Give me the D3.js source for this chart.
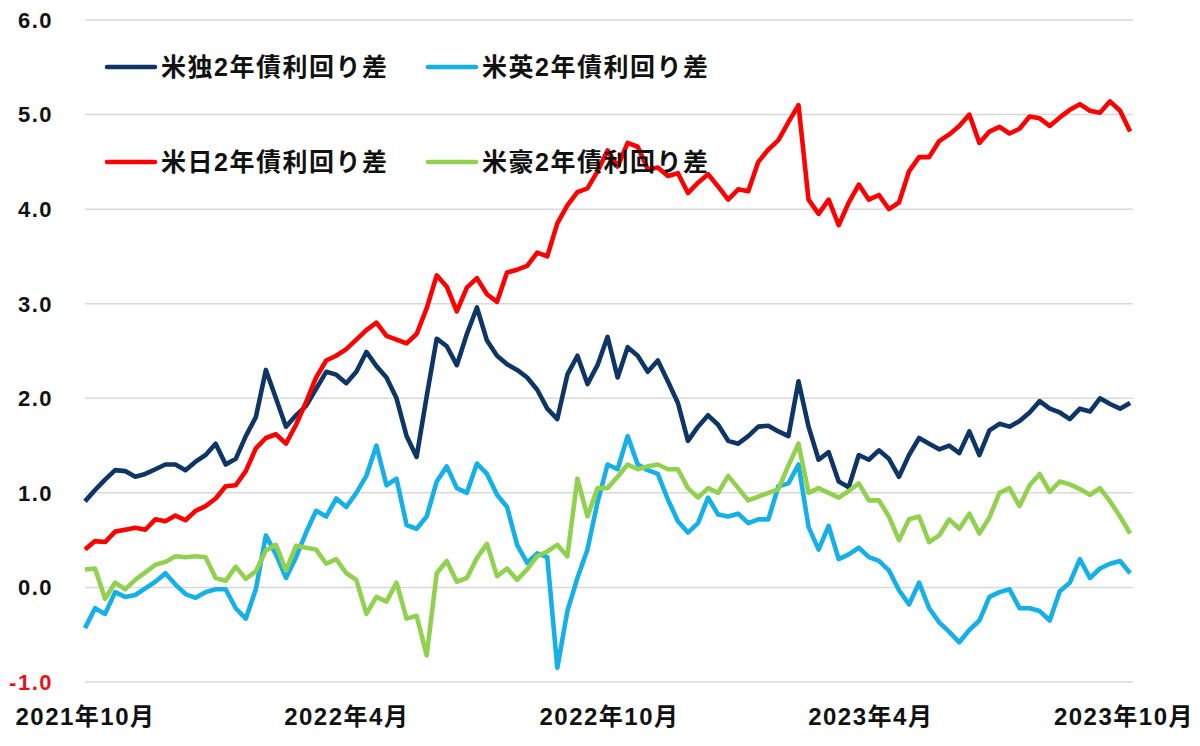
<!DOCTYPE html>
<html>
<head>
<meta charset="utf-8">
<title>米国と各国の2年債利回り差</title>
<script src="https://d3js.org/d3.v7.min.js"></script>
<style>
  html, body { margin: 0; padding: 0; background: #fff; }
  svg { display: block; }
  .grid line { stroke: #d9d9d9; stroke-width: 1.5; }
  .ylabel, .x-axis text, .legend text {
    font-family: "Liberation Sans", Arial, "Noto Sans CJK JP", sans-serif;
    font-weight: bold;
    fill: #111;
  }
  .ylabel { font-size: 22px; letter-spacing: 1.5px; }
  .x-axis text { font-size: 24px; letter-spacing: 1.5px; }
  .legend text { font-size: 25px; letter-spacing: 1.5px; }
  .series { fill: none; stroke-width: 4.6; stroke-linejoin: round; }
</style>
</head>
<body>
<div id="chart"></div>
<script>
// weekly observation dates (Fri)
const dates = [
  "2021-10-01","2021-10-08","2021-10-15","2021-10-22","2021-10-29",
  "2021-11-05","2021-11-12","2021-11-19","2021-11-26",
  "2021-12-03","2021-12-10","2021-12-17","2021-12-24","2021-12-31",
  "2022-01-07","2022-01-14","2022-01-21","2022-01-28",
  "2022-02-04","2022-02-11","2022-02-18","2022-02-25",
  "2022-03-04","2022-03-11","2022-03-18","2022-03-25",
  "2022-04-01","2022-04-08","2022-04-15","2022-04-22","2022-04-29",
  "2022-05-06","2022-05-13","2022-05-20","2022-05-27",
  "2022-06-03","2022-06-10","2022-06-17","2022-06-24",
  "2022-07-01","2022-07-08","2022-07-15","2022-07-22","2022-07-29",
  "2022-08-05","2022-08-12","2022-08-19","2022-08-26",
  "2022-09-02","2022-09-09","2022-09-16","2022-09-23","2022-09-30",
  "2022-10-07","2022-10-14","2022-10-21","2022-10-28",
  "2022-11-04","2022-11-11","2022-11-18","2022-11-25",
  "2022-12-02","2022-12-09","2022-12-16","2022-12-23","2022-12-30",
  "2023-01-06","2023-01-13","2023-01-20","2023-01-27",
  "2023-02-03","2023-02-10","2023-02-17","2023-02-24",
  "2023-03-03","2023-03-10","2023-03-17","2023-03-24","2023-03-31",
  "2023-04-07","2023-04-14","2023-04-21","2023-04-28",
  "2023-05-05","2023-05-12","2023-05-19","2023-05-26",
  "2023-06-02","2023-06-09","2023-06-16","2023-06-23","2023-06-30",
  "2023-07-07","2023-07-14","2023-07-21","2023-07-28",
  "2023-08-04","2023-08-11","2023-08-18","2023-08-25",
  "2023-09-01","2023-09-08","2023-09-15","2023-09-22","2023-09-29"
];

// 米独2年債利回り差
const usDe = [
  0.91, 1.03, 1.14, 1.24, 1.23, 1.17, 1.20, 1.25, 1.30, 1.30,
  1.24, 1.33, 1.40, 1.52, 1.30, 1.36, 1.60, 1.80, 2.30, 2.00,
  1.70, 1.82, 1.92, 2.10, 2.28, 2.25, 2.16, 2.28, 2.49, 2.34,
  2.22, 2.00, 1.60, 1.38, 2.02, 2.63, 2.55, 2.35, 2.68, 2.96,
  2.61, 2.45, 2.36, 2.30, 2.22, 2.09, 1.89, 1.78, 2.25, 2.45,
  2.15, 2.35, 2.65, 2.22, 2.54, 2.45, 2.28, 2.40, 2.18, 1.95,
  1.55, 1.70, 1.82, 1.72, 1.55, 1.52, 1.60, 1.70, 1.71, 1.65,
  1.60, 2.18, 1.70, 1.35, 1.43, 1.12, 1.06, 1.40, 1.35, 1.45,
  1.36, 1.17, 1.40, 1.58, 1.52, 1.46, 1.50, 1.42, 1.65, 1.40,
  1.66, 1.73, 1.70, 1.76, 1.85, 1.97, 1.89, 1.85, 1.78, 1.89,
  1.86, 2.00, 1.94, 1.89, 1.95
];

// 米英2年債利回り差
const usUk = [
  -0.43, -0.22, -0.28, -0.05, -0.10, -0.08, -0.01, 0.06, 0.15, 0.03,
  -0.07, -0.11, -0.05, -0.02, -0.02, -0.22, -0.33, -0.02, 0.55, 0.35,
  0.10, 0.32, 0.58, 0.81, 0.75, 0.94, 0.85, 1.00, 1.18, 1.50,
  1.08, 1.15, 0.66, 0.62, 0.75, 1.12, 1.28, 1.05, 1.00, 1.31,
  1.20, 0.98, 0.85, 0.45, 0.26, 0.36, 0.32, -0.85, -0.25, 0.10,
  0.40, 0.90, 1.30, 1.25, 1.60, 1.30, 1.24, 1.20, 0.93, 0.70,
  0.58, 0.68, 0.95, 0.77, 0.75, 0.78, 0.68, 0.72, 0.72, 1.07,
  1.10, 1.30, 0.64, 0.40, 0.65, 0.30, 0.35, 0.42, 0.32, 0.28,
  0.18, -0.03, -0.18, 0.05, -0.22, -0.37, -0.47, -0.58, -0.45, -0.35,
  -0.10, -0.05, -0.02, -0.22, -0.22, -0.25, -0.35, -0.04, 0.05, 0.30,
  0.10, 0.20, 0.25, 0.28, 0.15
];

// 米日2年債利回り差
const usJp = [
  0.40, 0.49, 0.48, 0.59, 0.61, 0.63, 0.61, 0.72, 0.70, 0.76,
  0.71, 0.81, 0.86, 0.94, 1.07, 1.08, 1.23, 1.47, 1.58, 1.62,
  1.52, 1.72, 1.96, 2.22, 2.40, 2.45, 2.52, 2.62, 2.72, 2.80,
  2.66, 2.62, 2.58, 2.68, 2.95, 3.30, 3.18, 2.92, 3.17, 3.27,
  3.10, 3.02, 3.33, 3.36, 3.40, 3.54, 3.50, 3.85, 4.04, 4.18,
  4.22, 4.40, 4.62, 4.45, 4.70, 4.66, 4.42, 4.44, 4.35, 4.38,
  4.17, 4.28, 4.37, 4.24, 4.10, 4.21, 4.19, 4.50, 4.63, 4.73,
  4.92, 5.10, 4.10, 3.95, 4.10, 3.83, 4.07, 4.26, 4.10, 4.15,
  4.00, 4.07, 4.40, 4.55, 4.55, 4.72, 4.79, 4.88, 5.00, 4.70,
  4.82, 4.87, 4.80, 4.85, 4.98, 4.96, 4.88, 4.97, 5.05, 5.11,
  5.04, 5.02, 5.14, 5.04, 4.82
];

// 米豪2年債利回り差
const usAu = [
  0.19, 0.20, -0.12, 0.05, -0.02, 0.08, 0.16, 0.24, 0.27, 0.33,
  0.32, 0.33, 0.32, 0.10, 0.07, 0.22, 0.09, 0.17, 0.39, 0.45,
  0.18, 0.44, 0.42, 0.40, 0.25, 0.30, 0.15, 0.08, -0.28, -0.10,
  -0.15, 0.05, -0.33, -0.30, -0.72, 0.15, 0.28, 0.06, 0.10, 0.31,
  0.46, 0.12, 0.20, 0.08, 0.19, 0.33, 0.38, 0.45, 0.33, 1.15,
  0.75, 1.05, 1.05, 1.17, 1.30, 1.25, 1.28, 1.30, 1.25, 1.25,
  1.05, 0.95, 1.05, 1.00, 1.18, 1.05, 0.92, 0.96, 1.00, 1.04,
  1.29, 1.52, 1.00, 1.05, 1.00, 0.95, 1.02, 1.10, 0.92, 0.92,
  0.75, 0.50, 0.72, 0.75, 0.48, 0.55, 0.72, 0.62, 0.78, 0.57,
  0.74, 1.00, 1.05, 0.86, 1.08, 1.20, 1.01, 1.12, 1.09, 1.04,
  0.98, 1.05, 0.91, 0.75, 0.57
];

const seriesNames = ["米独2年債利回り差", "米英2年債利回り差", "米日2年債利回り差", "米豪2年債利回り差"];
const seriesColors = ["#0d3565", "#15b0e8", "#ff0000", "#92d050"];
const seriesValues = [usDe, usUk, usJp, usAu];

const yTicks = [-1, 0, 1, 2, 3, 4, 5, 6];
const xTickDates = ["2021-10-01", "2022-04-01", "2022-10-01", "2023-04-01", "2023-10-01"];
const xTickLabels = ["2021年10月", "2022年4月", "2022年10月", "2023年4月", "2023年10月"];

// layout
const W = 1200, H = 746;
const plot = { left: 85, right: 1133, top: 20, bottom: 682 };

const parse = d3.timeParse("%Y-%m-%d");
const svg = d3.select("#chart").append("svg")
  .attr("width", W)
  .attr("height", H);

const x = d3.scaleTime()
  .domain([parse(xTickDates[0]), parse(xTickDates[xTickDates.length - 1])])
  .range([plot.left, plot.right]);

const y = d3.scaleLinear()
  .domain([-1, 6])
  .range([plot.bottom, plot.top]);

// gridlines
svg.append("g").attr("class", "grid")
  .selectAll("line")
  .data(yTicks)
  .join("line")
  .attr("x1", plot.left)
  .attr("x2", plot.right)
  .attr("y1", d => y(d))
  .attr("y2", d => y(d));

// y labels (negative value shown in red)
svg.append("g")
  .selectAll("text")
  .data(yTicks)
  .join("text")
  .attr("class", "ylabel")
  .attr("x", 53)
  .attr("y", d => y(d))
  .attr("dy", "0.36em")
  .attr("text-anchor", "end")
  .style("fill", d => d < 0 ? "#e8141c" : null)
  .text(d => d.toFixed(1));

// x axis
const xAxis = svg.append("g")
  .attr("class", "x-axis")
  .attr("transform", `translate(0,${plot.bottom})`)
  .call(d3.axisBottom(x)
    .tickValues(xTickDates.map(parse))
    .tickFormat((d, i) => xTickLabels[i])
    .tickSize(0)
    .tickPadding(26));
xAxis.select(".domain").remove();
xAxis.selectAll("text").attr("fill", null).attr("font-size", null).attr("font-family", null);
// keep the last label inside the window
xAxis.selectAll(".tick text").each(function() {
  const b = this.getBBox();
  const t = d3.select(this.parentNode).attr("transform");
  const tx = +t.match(/translate\(([-\d.]+)/)[1];
  const over = tx + b.x + b.width - (W - 6);
  if (over > 0) d3.select(this).attr("x", -over);
});

// lines
const line = d3.line()
  .x((d, i) => x(parse(dates[i])))
  .y(d => y(d));

svg.append("g")
  .selectAll("path")
  .data(seriesValues)
  .join("path")
  .attr("class", "series")
  .attr("stroke", (d, i) => seriesColors[i])
  .attr("d", line);

// legend, two rows of two
const legendCols = [107, 428];
const legendRows = [67, 162];
const lg = svg.append("g").attr("class", "legend")
  .selectAll("g")
  .data(seriesNames)
  .join("g")
  .attr("transform", (d, i) => `translate(${legendCols[i % 2]},${legendRows[Math.floor(i / 2)]})`);

lg.append("line")
  .attr("x1", 0).attr("x2", 48)
  .attr("stroke", (d, i) => seriesColors[i])
  .attr("stroke-width", 4.5)
  .attr("stroke-linecap", "round");

lg.append("text")
  .attr("x", 54)
  .attr("dy", "0.36em")
  .text(d => d);
</script>
</body>
</html>
